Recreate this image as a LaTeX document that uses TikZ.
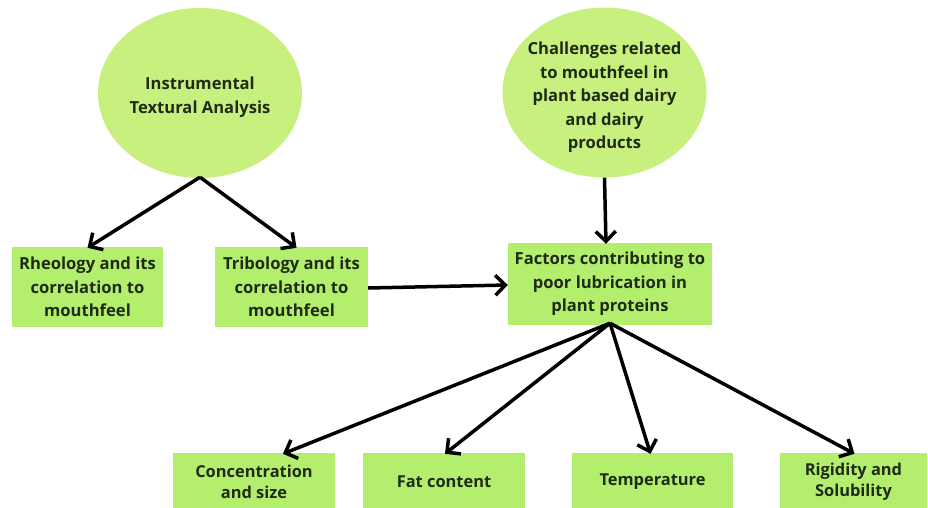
\documentclass[tikz,border=0pt]{standalone}
\usepackage{fontspec}
\setmainfont{Open Sans}
\usetikzlibrary{shapes.geometric,arrows.meta}
\definecolor{ellfill}{HTML}{C8F07E}
\definecolor{boxfill}{HTML}{B3EE6C}
\definecolor{txt}{HTML}{1F2B17}
\tikzset{
  ell/.style={ellipse, fill=ellfill, draw=none, minimum width=204pt, minimum height=170pt, inner sep=0pt},
  elltext/.style={align=center, text=txt, inner sep=0pt, font=\bfseries\fontsize{16.6}{23.5}\selectfont},
  box/.style={rectangle, fill=boxfill, draw=none, inner sep=0pt, align=center, text=txt, font=\bfseries\fontsize{16.6}{23.5}\selectfont},
  lowbox/.style={box, minimum height=57pt, font=\bfseries\fontsize{16.4}{21}\selectfont},
  arr/.style={draw=black, line width=3.5pt, -{Straight Barb[length=10pt,width=20pt,line width=3.5pt]}},
}
\begin{document}
\begin{tikzpicture}[x=1pt,y=-1pt]
\useasboundingbox (0,0) rectangle (928,508);
\clip (0,0) rectangle (928,508);
\fill[white] (0,0) rectangle (928,508);
\node[ell, label={[elltext, yshift=-4pt]center:{Instrumental\\Textural Analysis}}] (e1) at (200,93) {};
\node[ell, label={[elltext, yshift=-5pt]center:{Challenges related\\to mouthfeel in\\plant based dairy\\and dairy\\products}}] (e2) at (604.5,92.5) {};
\node[box, minimum width=151pt, minimum height=80pt] (rheo) at (87.5,287) {Rheology and its\\correlation to\\mouthfeel};
\node[box, minimum width=153pt, minimum height=80pt] (trib) at (291.5,287) {Tribology and its\\correlation to\\mouthfeel};
\node[box, minimum width=204pt, minimum height=82pt] (fac) at (610,284) {Factors contributing to\\poor lubrication in\\plant proteins};
\node[lowbox, minimum width=162pt] (conc) at (254,481.5) {Concentration\\and size};
\node[lowbox, minimum width=162pt] (fat) at (444,481.5) {Fat content};
\node[lowbox, minimum width=161pt] (temp) at (652.5,481.5) {Temperature};
\node[lowbox, minimum width=147pt] (rig) at (853.5,481.5) {Rigidity and\\Solubility};
\coordinate (a1) at ([yshift=1pt]e1.south);
\draw[arr] (a1) -- ([yshift=-1pt]rheo.north);
\draw[arr] (a1) -- ([xshift=5pt,yshift=-1pt]trib.north);
\draw[arr] (e2.south) -- ([xshift=-4pt,yshift=-1pt]fac.north);
\draw[arr] ([yshift=-1pt]trib.east) -- ([yshift=-1pt]fac.west);
\coordinate (a2) at ([yshift=2pt]fac.south);
\draw[arr] (a2) -- ([xshift=29pt,yshift=-1pt]conc.north);
\draw[arr] (a2) -- ([xshift=1pt,yshift=-1pt]fat.north);
\draw[arr] (a2) -- ([xshift=-2pt,yshift=-1pt]temp.north);
\draw[arr] (a2) -- ([xshift=1pt,yshift=-1pt]rig.north);
\end{tikzpicture}
\end{document}
